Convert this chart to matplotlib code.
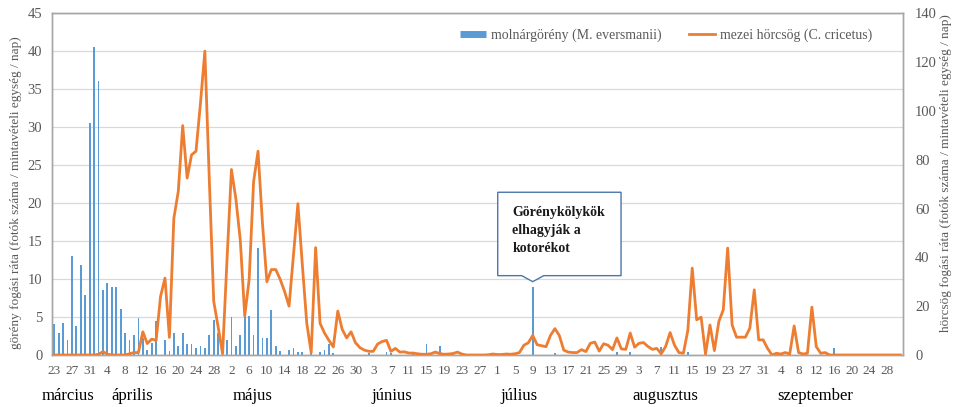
import matplotlib
matplotlib.use("Agg")
import matplotlib.pyplot as plt
import numpy as np
import pandas as pd
from matplotlib.lines import Line2D
from matplotlib.patches import Polygon
from matplotlib.transforms import IdentityTransform, blended_transform_factory

plt.rcParams['font.family'] = ['Liberation Serif', 'DejaVu Serif']

# ---------------- data ----------------
# daily categories (one day is absent from the series between Jul 29 and Aug 3)
days = pd.date_range("2015-03-23", "2015-10-01").drop(pd.Timestamp("2015-08-01"))
day_labels = [str(d.day) for d in days]

months = ["március", "április", "május", "június", "július", "augusztus", "szeptember"]

# molnárgörény (M. eversmanii) capture rate, left axis
ferret = [
    4.1, 2.9, 4.2, 2.0, 13.0, 3.8, 11.9, 7.9, 30.5, 40.6,
    36.1, 8.5, 9.5, 8.9, 8.9, 6.1, 2.9, 2.0, 2.6, 4.9,
    2.2, 0.6, 1.6, 4.5, 0.0, 2.0, 0.5, 2.9, 1.2, 2.9,
    1.5, 1.5, 0.9, 1.2, 0.9, 2.6, 4.6, 2.9, 0.0, 2.0,
    5.0, 1.2, 2.6, 5.1, 5.2, 2.6, 14.1, 2.3, 2.3, 5.9,
    1.2, 0.5, 0.0, 0.6, 0.9, 0.4, 0.4, 0.0, 0.4, 0.0,
    0.4, 0.6, 1.4, 0.3, 0.0, 0.0, 0.0, 0.0, 0.0, 0.0,
    0.0, 0.3, 0.0, 0.0, 0.0, 0.4, 0.3, 0.0, 0.0, 0.0,
    0.0, 0.4, 0.0, 0.0, 1.5, 0.0, 0.0, 1.2, 0.0, 0.0,
    0.0, 0.0, 0.0, 0.0, 0.0, 0.0, 0.0, 0.0, 0.0, 0.0,
    0.0, 0.0, 0.0, 0.0, 0.0, 0.0, 0.0, 0.0, 9.0, 0.0,
    0.0, 0.0, 0.0, 0.3, 0.0, 0.0, 0.0, 0.0, 0.0, 0.0,
    0.0, 0.0, 0.0, 0.0, 0.0, 0.0, 0.0, 0.4, 0.0, 0.0,
    0.4, 0.0, 0.0, 0.0, 0.0, 0.0, 0.0, 1.1, 0.0, 0.0,
    0.0, 0.0, 0.0, 0.4, 0.0, 0.0, 0.0, 0.2, 0.0, 0.0,
    0.0, 0.0, 0.0, 0.0, 0.0, 0.0, 0.0, 0.0, 0.0, 0.0,
    0.0, 0.0, 0.0, 0.3, 0.3, 0.0, 0.0, 0.0, 0.0, 0.0,
    0.0, 0.0, 0.0, 0.0, 0.0, 0.0, 0.9, 0.0, 0.0, 0.0,
    0.0, 0.0, 0.0, 0.0, 0.0, 0.0, 0.0, 0.0, 0.0, 0.0,
    0.0, 0.0,
]

# mezei hörcsög (C. cricetus) capture rate, right axis
hamster = [
    0, 0, 0, 0, 0, 0, 0, 0, 0, 0,
    0.3, 1.4, 0.3, 0, 0, 0, 0, 0.5, 1, 1,
    9.5, 4.7, 6.5, 6.0, 24, 31.5, 7.2, 56, 67, 94,
    72.5, 82, 83.5, 103, 124.5, 72, 22, 11.5, 0.5, 39,
    76, 64, 47, 16, 31, 71, 83.5, 54, 30, 35,
    35, 31, 26, 20, 41, 62, 37, 13, 1, 44,
    13, 9, 6, 3.3, 18, 10.5, 7, 9.5, 5, 3,
    2, 1.5, 1.5, 4.5, 5.5, 6, 1.5, 2.7, 1.2, 1.3,
    0.8, 0.8, 0.5, 0.3, 0.3, 0.5, 1.2, 0.6, 0.3, 0.4,
    0.6, 1.2, 0.4, 0, 0, 0, 0, 0, 0.1, 0.4,
    0.2, 0.2, 0.4, 0.3, 0.5, 1, 4, 5, 8, 4.2,
    3.8, 3.4, 8, 10.8, 8, 2, 1.2, 1, 1, 2.2,
    1.4, 4.8, 5.3, 1.6, 4.6, 4, 2.2, 7, 2.5, 2.3,
    9, 3.2, 4.8, 5.1, 3.5, 2.3, 2.7, 0.5, 3.5, 9.2,
    4, 1, 0.7, 10, 35.6, 14.4, 15.5, 0.4, 12.3, 1.8,
    13.7, 18.5, 43.8, 12.3, 7.3, 7.3, 7.3, 11, 26.7, 6.2,
    6.2, 2.7, 0, 0.7, 0.4, 1, 0.4, 11.9, 1, 0.4,
    0.7, 19.6, 3.4, 0.7, 1, 0, 0, 0, 0, 0,
    0, 0, 0, 0, 0, 0, 0, 0, 0, 0,
    0, 0,
]

annot_day = pd.Timestamp("2015-07-09")
annot_text = "Görénykölykök\nelhagyják a\nkotorékot"

# ---------------- styling ----------------
BLUE = "#5B9BD5"
ORANGE = "#ED7D31"
GREY_TXT = "#595959"
GRID = "#D9D9D9"
FRAME = "#A6A6A6"

W, H = 956, 407
fig = plt.figure(figsize=(W / 100, H / 100), dpi=100)
ax = fig.add_axes([52 / W, (H - 355) / H, 850.7 / W, 341.7 / H])
ax2 = ax.twinx()

x = np.arange(len(days))
ax.bar(x, ferret, width=0.4, color=BLUE, zorder=2)
ax2.plot(x, hamster, color=ORANGE, lw=2, solid_joinstyle="round", zorder=3)

ax.set_xlim(-0.5, len(days) - 0.5)
ax.set_ylim(0, 45)
ax.set_yticks(range(0, 46, 5))
ax2.set_ylim(0, 140)
ax2.set_yticks(range(0, 141, 20))
ax.set_xticks(x[::4])
ax.set_xticklabels(day_labels[::4])

ax.grid(axis="y", color=GRID, lw=0.9)
ax.set_axisbelow(True)
ax.tick_params(axis="both", length=0, colors=GREY_TXT)
ax.tick_params(axis="y", labelsize=10.5, pad=7)
ax.tick_params(axis="x", labelsize=9.5, pad=7)
ax2.tick_params(axis="y", length=0, colors=GREY_TXT, labelsize=10.5, pad=9)

for a in (ax, ax2):
    for s in a.spines.values():
        s.set_color(FRAME)
        s.set_linewidth(1.0)

# axis titles
fig.text(16 / W, 1 - 193 / H, "görény fogási ráta (fotók száma / mintavételi egység / nap)",
         rotation=90, ha="center", va="center", fontsize=9.5, color=GREY_TXT)
fig.text(946 / W, 1 - 173 / H, "hörcsög fogási ráta (fotók száma / mintavételi egység / nap)",
         rotation=90, ha="center", va="center", fontsize=9.5, color=GREY_TXT)

# month labels
month_pos = [3.2, 17.6, 44.7, 76.2, 104.8, 138, 171.8]
tr = blended_transform_factory(ax.transData, fig.transFigure)
for m, p in zip(months, month_pos):
    ax.text(p, 1 - 396 / H, m, transform=tr, ha="center", va="center",
            fontsize=12, color="black")

# legend
handles = [Line2D([], [], color=BLUE, lw=5, solid_capstyle="butt"),
           Line2D([], [], color=ORANGE, lw=2)]
leg = fig.legend(handles, ["molnárgörény (M. eversmanii)", "mezei hörcsög (C. cricetus)"],
                 loc="center left", bbox_to_anchor=(460 / W, 1 - 35 / H),
                 bbox_transform=fig.transFigure, ncol=2, frameon=False,
                 fontsize=10, handlelength=1.9, handletextpad=0.3,
                 columnspacing=2.0, borderpad=0, borderaxespad=0)
for t in leg.get_texts():
    t.set_color(GREY_TXT)

# callout
ai = int(np.where(days == annot_day)[0][0])
tx, ty = ax.transData.transform((ai, ferret[ai]))
ty += 5
L, R, B, T, N = -35, 88.3, 6, 89.4, 11
poly = [(tx + L, ty + B), (tx - N, ty + B), (tx, ty), (tx + N, ty + B),
        (tx + R, ty + B), (tx + R, ty + T), (tx + L, ty + T)]
fig.patches.append(Polygon(poly, closed=True, transform=IdentityTransform(),
                           facecolor="white", edgecolor="#4A76A8", lw=1.0, zorder=5))
fig.text(tx + L + 14.5, ty + 51.2, annot_text, transform=IdentityTransform(),
         ha="left", va="center", fontsize=10, fontweight="bold",
         linespacing=1.5, color="#1a1a1a", zorder=6)

fig.savefig("out.png", dpi=100)
